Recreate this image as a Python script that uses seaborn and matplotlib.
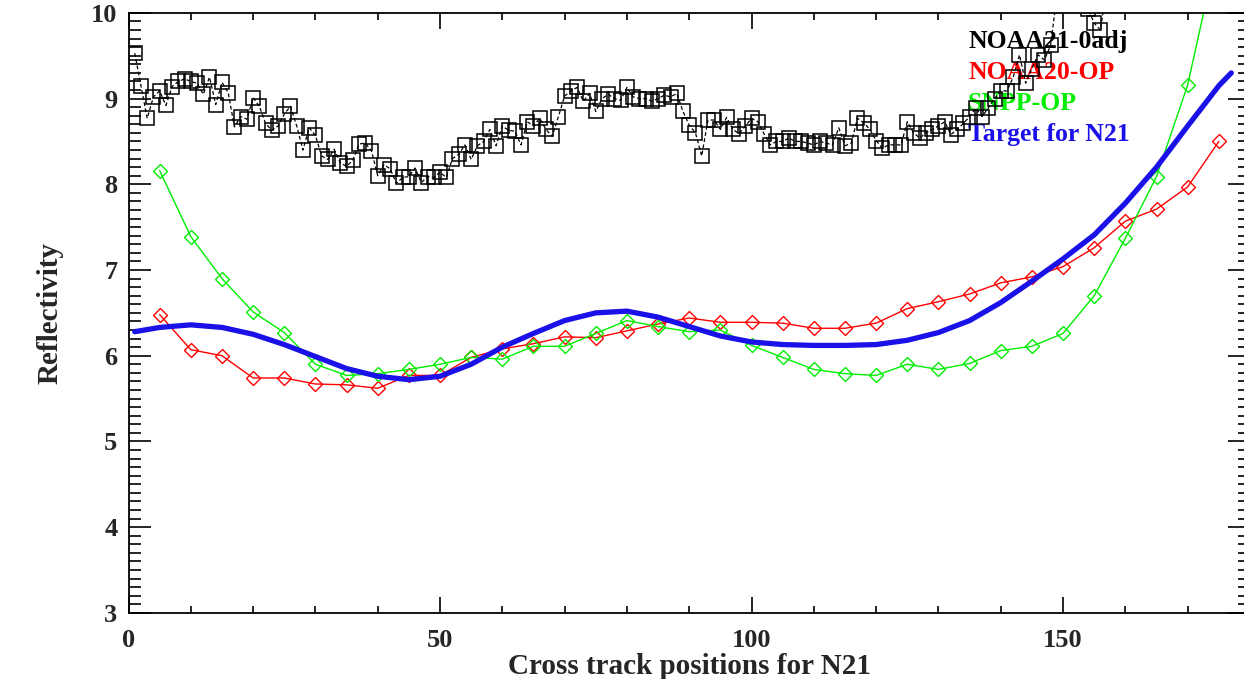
import numpy as np
import pandas as pd
import matplotlib
matplotlib.use("Agg")
import matplotlib.pyplot as plt
import seaborn as sns
from matplotlib.ticker import MultipleLocator

# ---------------- data ----------------
n21_x = list(range(1, 159))
n21_y = [
    9.53, 9.15, 8.77, 9.02, 9.09, 8.92, 9.14, 9.20, 9.23, 9.20,
    9.18, 9.05, 9.25, 8.93, 9.19, 9.07, 8.67, 8.79, 8.76, 9.01,
    8.91, 8.71, 8.63, 8.68, 8.82, 8.91, 8.68, 8.40, 8.66, 8.57,
    8.33, 8.29, 8.41, 8.25, 8.21, 8.28, 8.47, 8.48, 8.39, 8.10,
    8.23, 8.18, 8.01, 8.08, 8.09, 8.19, 8.02, 8.09, 8.08, 8.14,
    8.08, 8.30, 8.35, 8.46, 8.29, 8.45, 8.50, 8.64, 8.45, 8.68,
    8.63, 8.62, 8.46, 8.73, 8.68, 8.77, 8.64, 8.56, 8.79, 9.03,
    9.09, 9.13, 8.97, 9.06, 8.85, 9.00, 9.05, 9.00, 8.98, 9.13,
    9.02, 9.00, 9.00, 8.97, 9.00, 9.04, 9.02, 9.06, 8.85, 8.69,
    8.60, 8.33, 8.75, 8.75, 8.64, 8.78, 8.64, 8.59, 8.68, 8.77,
    8.73, 8.59, 8.46, 8.50, 8.50, 8.54, 8.50, 8.50, 8.48, 8.46,
    8.50, 8.48, 8.46, 8.66, 8.45, 8.48, 8.77, 8.72, 8.64, 8.51,
    8.42, 8.46, 8.46, 8.46, 8.73, 8.60, 8.54, 8.60, 8.64, 8.68,
    8.73, 8.58, 8.64, 8.71, 8.79, 8.89, 8.79, 8.89, 9.00, 9.09,
    9.09, 9.25, 9.51, 9.18, 9.35, 9.51, 9.45, 9.62, 10.2, 10.5,
    10.7, 10.5, 10.3, 10.05, 9.88, 9.80, 10.3, 10.8,
]

op_x = list(range(5, 180, 5))
n20_y = [
    6.48, 6.07, 6.00, 5.74, 5.74, 5.67, 5.66, 5.62, 5.77, 5.77,
    5.98, 6.08, 6.14, 6.22, 6.21, 6.29, 6.37, 6.44, 6.39, 6.39,
    6.38, 6.32, 6.32, 6.38, 6.55, 6.63, 6.72, 6.85, 6.92, 7.04,
    7.26, 7.57, 7.71, 7.97, 8.50,
]
snpp_y = [
    8.16, 7.39, 6.90, 6.51, 6.27, 5.90, 5.77, 5.79, 5.84, 5.90,
    5.98, 5.96, 6.11, 6.11, 6.26, 6.41, 6.34, 6.28, 6.30, 6.12,
    5.98, 5.84, 5.79, 5.77, 5.90, 5.84, 5.91, 6.06, 6.11, 6.26,
    6.70, 7.37, 8.09, 9.16, 10.8,
]

target_x = [1, 5, 10, 15, 20, 25, 30, 35, 40, 45, 50, 55, 60, 65, 70, 75,
            80, 85, 90, 95, 100, 105, 110, 115, 120, 125, 130, 135, 140,
            145, 150, 155, 160, 165, 170, 175, 177]
target_y = [6.28, 6.33, 6.36, 6.33, 6.25, 6.13, 5.99, 5.85, 5.76, 5.72,
            5.76, 5.90, 6.10, 6.26, 6.41, 6.50, 6.52, 6.45, 6.34, 6.23,
            6.16, 6.13, 6.12, 6.12, 6.13, 6.18, 6.27, 6.41, 6.62, 6.87,
            7.13, 7.41, 7.78, 8.20, 8.68, 9.15, 9.30]

legend_labels = ["NOAA21-0adj", "NOAA20-OP", "SNPP-OP", "Target for N21"]
legend_colors = ["#000000", "#ff0000", "#00ee00", "#1a10e8"]

x_ticks = [0, 50, 100, 150]
y_ticks = [3, 4, 5, 6, 7, 8, 9, 10]

# ---------------- plot ----------------
sns.set_style("ticks")
plt.rcParams["font.family"] = ["Liberation Serif", "DejaVu Serif"]
plt.rcParams["font.weight"] = "bold"

fig = plt.figure(figsize=(12.44, 6.79), dpi=100)
ax = fig.add_axes([0.1033, 0.0975, 0.9015, 0.8835])

df21 = pd.DataFrame({"x": n21_x, "y": n21_y})
df20 = pd.DataFrame({"x": op_x, "y": n20_y})
dfsn = pd.DataFrame({"x": op_x, "y": snpp_y})
dft = pd.DataFrame({"x": target_x, "y": target_y})

sns.lineplot(data=df21, x="x", y="y", ax=ax, color="black", linewidth=0.9,
             linestyle=(0, (3, 2)), marker="s", markersize=10,
             markerfacecolor="none", markeredgecolor="black",
             markeredgewidth=1.1, estimator=None, sort=False)
sns.lineplot(data=df20, x="x", y="y", ax=ax, color="#ff0000", linewidth=1.0,
             marker="D", markersize=7, markerfacecolor="none",
             markeredgecolor="#ff0000", markeredgewidth=1.0,
             estimator=None, sort=False)
sns.lineplot(data=dfsn, x="x", y="y", ax=ax, color="#00ee00", linewidth=1.0,
             marker="D", markersize=7, markerfacecolor="none",
             markeredgecolor="#00ee00", markeredgewidth=1.0,
             estimator=None, sort=False)
sns.lineplot(data=dft, x="x", y="y", ax=ax, color="#1a10e8", linewidth=3.8,
             estimator=None, sort=False)

ax.set_xlim(0, 180)
ax.set_ylim(3, 10)
ax.set_xticks(x_ticks)
ax.set_yticks(y_ticks)
ax.set_xticklabels([str(v) for v in x_ticks])
ax.set_yticklabels([str(v) for v in y_ticks])
ax.xaxis.set_minor_locator(MultipleLocator(10))
ax.yaxis.set_minor_locator(MultipleLocator(0.1))

for s in ax.spines.values():
    s.set_visible(True)
    s.set_linewidth(1.3)
    s.set_color("black")

ax.tick_params(axis="both", which="both", direction="in", top=True,
               right=True, color="black", width=1.2)
ax.tick_params(axis="x", which="major", length=11.5, pad=12, labelsize=19)
ax.tick_params(axis="x", which="minor", length=5)
ax.tick_params(axis="y", which="major", length=16, pad=8, labelsize=19)
ax.tick_params(axis="y", which="minor", length=8.4)
for lab in ax.get_xticklabels() + ax.get_yticklabels():
    lab.set_fontweight("bold")

ax.set_xlabel("Cross track positions for N21", fontsize=21, fontweight="bold")
ax.set_ylabel("Reflectivity", fontsize=21, fontweight="bold")
ax.xaxis.set_label_coords(0.5, -0.067)
ax.yaxis.set_label_coords(-0.0575, 0.5)

y_pos = [0.9515, 0.900, 0.8482, 0.7965]
for lab, col, yp in zip(legend_labels, legend_colors, y_pos):
    ax.text(0.7486, yp, lab, color=col, fontsize=18.5, fontweight="bold",
            transform=ax.transAxes, ha="left", va="center", zorder=1)

fig.savefig("out.png", dpi=100)
